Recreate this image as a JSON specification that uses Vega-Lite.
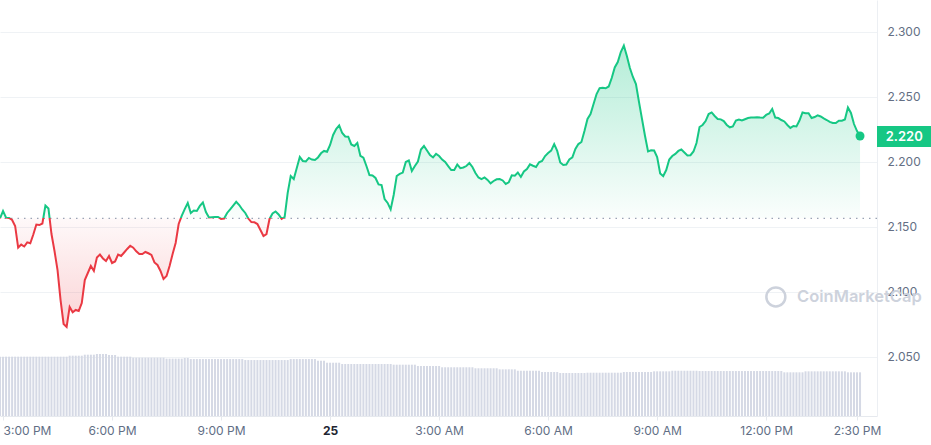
{
"$schema": "https://vega.github.io/schema/vega-lite/v6.json",
"width": 877, "height": 416,
"autosize": {"type": "none"},
"padding": {"left": 0, "top": 0, "right": 54, "bottom": 29},
"background": "#ffffff",
"config": {"view": {"stroke": null}, "font": "Inter"},
"data": {"format": {"parse": {"t": "utc:'%d %H:%M'"}}, "values": [
{"t":"24 14:55","p":2.1567,"v":5.99},{"t":"24 15:00","p":2.1623,"v":5.99},{"t":"24 15:05","p":2.1572,"v":5.99},{"t":"24 15:10","p":2.1569,"v":5.99},{"t":"24 15:15","p":2.1554,"v":5.99},{"t":"24 15:20","p":2.1508,"v":5.99},{"t":"24 15:25","p":2.1342,"v":5.99},{"t":"24 15:30","p":2.1365,"v":5.99},{"t":"24 15:35","p":2.1350,"v":5.99},{"t":"24 15:40","p":2.1382,"v":5.99},{"t":"24 15:45","p":2.1375,"v":5.99},{"t":"24 15:50","p":2.1442,"v":5.99},
{"t":"24 15:55","p":2.1519,"v":5.99},{"t":"24 16:00","p":2.1515,"v":5.99},{"t":"24 16:05","p":2.1527,"v":5.99},{"t":"24 16:10","p":2.1665,"v":5.99},{"t":"24 16:15","p":2.1642,"v":5.99},{"t":"24 16:20","p":2.1446,"v":5.99},{"t":"24 16:25","p":2.1315,"v":5.99},{"t":"24 16:30","p":2.1169,"v":5.99},{"t":"24 16:35","p":2.0938,"v":5.99},{"t":"24 16:40","p":2.0754,"v":5.99},{"t":"24 16:45","p":2.0731,"v":5.99},{"t":"24 16:50","p":2.0885,"v":6.09},
{"t":"24 16:55","p":2.0844,"v":6.09},{"t":"24 17:00","p":2.0862,"v":6.09},{"t":"24 17:05","p":2.0854,"v":6.09},{"t":"24 17:10","p":2.0915,"v":6.09},{"t":"24 17:15","p":2.1092,"v":6.19},{"t":"24 17:20","p":2.1146,"v":6.19},{"t":"24 17:25","p":2.1200,"v":6.19},{"t":"24 17:30","p":2.1162,"v":6.19},{"t":"24 17:35","p":2.1265,"v":6.26},{"t":"24 17:40","p":2.1288,"v":6.26},{"t":"24 17:45","p":2.1258,"v":6.26},{"t":"24 17:50","p":2.1238,"v":6.26},
{"t":"24 17:55","p":2.1277,"v":6.16},{"t":"24 18:00","p":2.1223,"v":6.16},{"t":"24 18:05","p":2.1235,"v":6.16},{"t":"24 18:10","p":2.1288,"v":5.99},{"t":"24 18:15","p":2.1277,"v":5.99},{"t":"24 18:20","p":2.1304,"v":5.99},{"t":"24 18:25","p":2.1331,"v":5.99},{"t":"24 18:30","p":2.1356,"v":5.99},{"t":"24 18:35","p":2.1341,"v":5.89},{"t":"24 18:40","p":2.1313,"v":5.89},{"t":"24 18:45","p":2.1292,"v":5.89},{"t":"24 18:50","p":2.1292,"v":5.89},
{"t":"24 18:55","p":2.1308,"v":5.89},{"t":"24 19:00","p":2.1298,"v":5.89},{"t":"24 19:05","p":2.1285,"v":5.89},{"t":"24 19:10","p":2.1227,"v":5.89},{"t":"24 19:15","p":2.1208,"v":5.89},{"t":"24 19:20","p":2.1162,"v":5.89},{"t":"24 19:25","p":2.1100,"v":5.89},{"t":"24 19:30","p":2.1123,"v":5.79},{"t":"24 19:35","p":2.1200,"v":5.79},{"t":"24 19:40","p":2.1292,"v":5.79},{"t":"24 19:45","p":2.1377,"v":5.79},{"t":"24 19:50","p":2.1523,"v":5.79},
{"t":"24 19:55","p":2.1585,"v":5.79},{"t":"24 20:00","p":2.1638,"v":5.86},{"t":"24 20:05","p":2.1685,"v":5.86},{"t":"24 20:10","p":2.1608,"v":5.75},{"t":"24 20:15","p":2.1627,"v":5.75},{"t":"24 20:20","p":2.1623,"v":5.75},{"t":"24 20:25","p":2.1662,"v":5.75},{"t":"24 20:30","p":2.1688,"v":5.75},{"t":"24 20:35","p":2.1615,"v":5.75},{"t":"24 20:40","p":2.1573,"v":5.75},{"t":"24 20:45","p":2.1575,"v":5.75},{"t":"24 20:50","p":2.1577,"v":5.75},
{"t":"24 20:55","p":2.1577,"v":5.75},{"t":"24 21:00","p":2.1562,"v":5.75},{"t":"24 21:05","p":2.1565,"v":5.75},{"t":"24 21:10","p":2.1608,"v":5.75},{"t":"24 21:15","p":2.1635,"v":5.75},{"t":"24 21:20","p":2.1665,"v":5.75},{"t":"24 21:25","p":2.1694,"v":5.75},{"t":"24 21:30","p":2.1669,"v":5.75},{"t":"24 21:35","p":2.1635,"v":5.75},{"t":"24 21:40","p":2.1608,"v":5.65},{"t":"24 21:45","p":2.1565,"v":5.65},{"t":"24 21:50","p":2.1538,"v":5.65},
{"t":"24 21:55","p":2.1536,"v":5.65},{"t":"24 22:00","p":2.1523,"v":5.65},{"t":"24 22:05","p":2.1477,"v":5.65},{"t":"24 22:10","p":2.1431,"v":5.65},{"t":"24 22:15","p":2.1446,"v":5.65},{"t":"24 22:20","p":2.1562,"v":5.65},{"t":"24 22:25","p":2.1604,"v":5.65},{"t":"24 22:30","p":2.1619,"v":5.65},{"t":"24 22:35","p":2.1596,"v":5.65},{"t":"24 22:40","p":2.1562,"v":5.65},{"t":"24 22:45","p":2.1577,"v":5.65},{"t":"24 22:50","p":2.1762,"v":5.65},
{"t":"24 22:55","p":2.1892,"v":5.75},{"t":"24 23:00","p":2.1869,"v":5.75},{"t":"24 23:05","p":2.1954,"v":5.75},{"t":"24 23:10","p":2.2038,"v":5.75},{"t":"24 23:15","p":2.2008,"v":5.75},{"t":"24 23:20","p":2.2004,"v":5.75},{"t":"24 23:25","p":2.2031,"v":5.75},{"t":"24 23:30","p":2.2019,"v":5.75},{"t":"24 23:35","p":2.2015,"v":5.75},{"t":"24 23:40","p":2.2035,"v":5.58},{"t":"24 23:45","p":2.2067,"v":5.58},{"t":"24 23:50","p":2.2085,"v":5.58},
{"t":"24 23:55","p":2.2079,"v":5.38},{"t":"25 00:00","p":2.2131,"v":5.38},{"t":"25 00:05","p":2.2208,"v":5.38},{"t":"25 00:10","p":2.2254,"v":5.38},{"t":"25 00:15","p":2.2281,"v":5.38},{"t":"25 00:20","p":2.2223,"v":5.25},{"t":"25 00:25","p":2.2196,"v":5.25},{"t":"25 00:30","p":2.2195,"v":5.25},{"t":"25 00:35","p":2.2135,"v":5.25},{"t":"25 00:40","p":2.2123,"v":5.25},{"t":"25 00:45","p":2.2146,"v":5.25},{"t":"25 00:50","p":2.2048,"v":5.25},
{"t":"25 00:55","p":2.2033,"v":5.25},{"t":"25 01:00","p":2.1969,"v":5.25},{"t":"25 01:05","p":2.1900,"v":5.25},{"t":"25 01:10","p":2.1896,"v":5.25},{"t":"25 01:15","p":2.1877,"v":5.25},{"t":"25 01:20","p":2.1828,"v":5.25},{"t":"25 01:25","p":2.1823,"v":5.25},{"t":"25 01:30","p":2.1715,"v":5.25},{"t":"25 01:35","p":2.1685,"v":5.25},{"t":"25 01:40","p":2.1635,"v":5.25},{"t":"25 01:45","p":2.1746,"v":5.18},{"t":"25 01:50","p":2.1892,"v":5.18},
{"t":"25 01:55","p":2.1908,"v":5.18},{"t":"25 02:00","p":2.1919,"v":5.18},{"t":"25 02:05","p":2.2000,"v":5.18},{"t":"25 02:10","p":2.2012,"v":5.18},{"t":"25 02:15","p":2.1931,"v":5.18},{"t":"25 02:20","p":2.1969,"v":5.18},{"t":"25 02:25","p":2.2004,"v":5.05},{"t":"25 02:30","p":2.2096,"v":5.05},{"t":"25 02:35","p":2.2123,"v":5.05},{"t":"25 02:40","p":2.2088,"v":5.05},{"t":"25 02:45","p":2.2054,"v":5.05},{"t":"25 02:50","p":2.2035,"v":5.05},
{"t":"25 02:55","p":2.2062,"v":5.05},{"t":"25 03:00","p":2.2046,"v":5.05},{"t":"25 03:05","p":2.2019,"v":4.92},{"t":"25 03:10","p":2.2000,"v":4.92},{"t":"25 03:15","p":2.1969,"v":4.92},{"t":"25 03:20","p":2.1938,"v":4.92},{"t":"25 03:25","p":2.1938,"v":4.92},{"t":"25 03:30","p":2.1981,"v":4.92},{"t":"25 03:35","p":2.1952,"v":4.92},{"t":"25 03:40","p":2.1958,"v":4.92},{"t":"25 03:45","p":2.1969,"v":4.92},{"t":"25 03:50","p":2.1992,"v":4.92},
{"t":"25 03:55","p":2.1962,"v":4.92},{"t":"25 04:00","p":2.1915,"v":4.82},{"t":"25 04:05","p":2.1881,"v":4.82},{"t":"25 04:10","p":2.1869,"v":4.82},{"t":"25 04:15","p":2.1881,"v":4.82},{"t":"25 04:20","p":2.1862,"v":4.82},{"t":"25 04:25","p":2.1836,"v":4.82},{"t":"25 04:30","p":2.1854,"v":4.82},{"t":"25 04:35","p":2.1867,"v":4.82},{"t":"25 04:40","p":2.1869,"v":4.71},{"t":"25 04:45","p":2.1858,"v":4.71},{"t":"25 04:50","p":2.1831,"v":4.71},
{"t":"25 04:55","p":2.1844,"v":4.71},{"t":"25 05:00","p":2.1898,"v":4.71},{"t":"25 05:05","p":2.1895,"v":4.71},{"t":"25 05:10","p":2.1919,"v":4.57},{"t":"25 05:15","p":2.1885,"v":4.57},{"t":"25 05:20","p":2.1927,"v":4.57},{"t":"25 05:25","p":2.1946,"v":4.57},{"t":"25 05:30","p":2.1982,"v":4.57},{"t":"25 05:35","p":2.1971,"v":4.57},{"t":"25 05:40","p":2.1962,"v":4.57},{"t":"25 05:45","p":2.1998,"v":4.57},{"t":"25 05:50","p":2.2008,"v":4.44},
{"t":"25 05:55","p":2.2046,"v":4.44},{"t":"25 06:00","p":2.2069,"v":4.44},{"t":"25 06:05","p":2.2088,"v":4.44},{"t":"25 06:10","p":2.2138,"v":4.44},{"t":"25 06:15","p":2.2085,"v":4.44},{"t":"25 06:20","p":2.1996,"v":4.34},{"t":"25 06:25","p":2.1977,"v":4.34},{"t":"25 06:30","p":2.1981,"v":4.34},{"t":"25 06:35","p":2.2019,"v":4.34},{"t":"25 06:40","p":2.2035,"v":4.34},{"t":"25 06:45","p":2.2100,"v":4.34},{"t":"25 06:50","p":2.2138,"v":4.34},
{"t":"25 06:55","p":2.2154,"v":4.34},{"t":"25 07:00","p":2.2238,"v":4.34},{"t":"25 07:05","p":2.2331,"v":4.37},{"t":"25 07:10","p":2.2369,"v":4.37},{"t":"25 07:15","p":2.2446,"v":4.37},{"t":"25 07:20","p":2.2523,"v":4.37},{"t":"25 07:25","p":2.2568,"v":4.37},{"t":"25 07:30","p":2.2571,"v":4.37},{"t":"25 07:35","p":2.2567,"v":4.37},{"t":"25 07:40","p":2.2581,"v":4.37},{"t":"25 07:45","p":2.2646,"v":4.37},{"t":"25 07:50","p":2.2727,"v":4.37},
{"t":"25 07:55","p":2.2769,"v":4.37},{"t":"25 08:00","p":2.2846,"v":4.37},{"t":"25 08:05","p":2.2896,"v":4.44},{"t":"25 08:10","p":2.2815,"v":4.44},{"t":"25 08:15","p":2.2723,"v":4.44},{"t":"25 08:20","p":2.2654,"v":4.44},{"t":"25 08:25","p":2.2600,"v":4.44},{"t":"25 08:30","p":2.2462,"v":4.44},{"t":"25 08:35","p":2.2331,"v":4.44},{"t":"25 08:40","p":2.2200,"v":4.44},{"t":"25 08:45","p":2.2081,"v":4.44},{"t":"25 08:50","p":2.2090,"v":4.44},
{"t":"25 08:55","p":2.2088,"v":4.51},{"t":"25 09:00","p":2.2038,"v":4.51},{"t":"25 09:05","p":2.1912,"v":4.51},{"t":"25 09:10","p":2.1892,"v":4.51},{"t":"25 09:15","p":2.1938,"v":4.51},{"t":"25 09:20","p":2.2019,"v":4.51},{"t":"25 09:25","p":2.2046,"v":4.57},{"t":"25 09:30","p":2.2062,"v":4.57},{"t":"25 09:35","p":2.2085,"v":4.57},{"t":"25 09:40","p":2.2096,"v":4.57},{"t":"25 09:45","p":2.2073,"v":4.57},{"t":"25 09:50","p":2.2050,"v":4.57},
{"t":"25 09:55","p":2.2052,"v":4.57},{"t":"25 10:00","p":2.2081,"v":4.57},{"t":"25 10:05","p":2.2146,"v":4.57},{"t":"25 10:10","p":2.2269,"v":4.54},{"t":"25 10:15","p":2.2285,"v":4.54},{"t":"25 10:20","p":2.2315,"v":4.54},{"t":"25 10:25","p":2.2369,"v":4.54},{"t":"25 10:30","p":2.2381,"v":4.54},{"t":"25 10:35","p":2.2354,"v":4.54},{"t":"25 10:40","p":2.2331,"v":4.54},{"t":"25 10:45","p":2.2328,"v":4.54},{"t":"25 10:50","p":2.2315,"v":4.54},
{"t":"25 10:55","p":2.2285,"v":4.54},{"t":"25 11:00","p":2.2267,"v":4.54},{"t":"25 11:05","p":2.2273,"v":4.54},{"t":"25 11:10","p":2.2319,"v":4.54},{"t":"25 11:15","p":2.2327,"v":4.54},{"t":"25 11:20","p":2.2319,"v":4.54},{"t":"25 11:25","p":2.2329,"v":4.54},{"t":"25 11:30","p":2.2338,"v":4.54},{"t":"25 11:35","p":2.2342,"v":4.54},{"t":"25 11:40","p":2.2342,"v":4.54},{"t":"25 11:45","p":2.2344,"v":4.54},{"t":"25 11:50","p":2.2342,"v":4.54},
{"t":"25 11:55","p":2.2341,"v":4.54},{"t":"25 12:00","p":2.2362,"v":4.54},{"t":"25 12:05","p":2.2373,"v":4.54},{"t":"25 12:10","p":2.2408,"v":4.54},{"t":"25 12:15","p":2.2342,"v":4.54},{"t":"25 12:20","p":2.2338,"v":4.54},{"t":"25 12:25","p":2.2323,"v":4.54},{"t":"25 12:30","p":2.2312,"v":4.41},{"t":"25 12:35","p":2.2285,"v":4.41},{"t":"25 12:40","p":2.2262,"v":4.41},{"t":"25 12:45","p":2.2277,"v":4.41},{"t":"25 12:50","p":2.2273,"v":4.41},
{"t":"25 12:55","p":2.2319,"v":4.41},{"t":"25 13:00","p":2.2381,"v":4.41},{"t":"25 13:05","p":2.2375,"v":4.51},{"t":"25 13:10","p":2.2375,"v":4.51},{"t":"25 13:15","p":2.2338,"v":4.51},{"t":"25 13:20","p":2.2346,"v":4.51},{"t":"25 13:25","p":2.2359,"v":4.51},{"t":"25 13:30","p":2.2350,"v":4.51},{"t":"25 13:35","p":2.2335,"v":4.51},{"t":"25 13:40","p":2.2323,"v":4.51},{"t":"25 13:45","p":2.2308,"v":4.51},{"t":"25 13:50","p":2.2300,"v":4.51},
{"t":"25 13:55","p":2.2300,"v":4.51},{"t":"25 14:00","p":2.2318,"v":4.51},{"t":"25 14:05","p":2.2318,"v":4.51},{"t":"25 14:10","p":2.2327,"v":4.51},{"t":"25 14:15","p":2.2419,"v":4.41},{"t":"25 14:20","p":2.2377,"v":4.41},{"t":"25 14:25","p":2.2292,"v":4.41},{"t":"25 14:30","p":2.2238,"v":4.41},{"t":"25 14:35","p":2.2200,"v":4.41}
]},
"layer": [
{
"mark": {"type": "bar", "width": 2, "fill": "#d5d9e5"},
"encoding": {
"x": {"field": "t", "type": "temporal",
"scale": {"type": "utc", "padding": 0, "domain": [{"year": 1900, "month": 1, "date": 24, "hours": 14, "minutes": 55, "utc": true}, {"year": 1900, "month": 1, "date": 25, "hours": 15, "minutes": 3, "utc": true}]},
"axis": null},
"y": {"field": "v", "type": "quantitative", "scale": {"domain": [0, 42], "nice": false}, "axis": null}
}
},
{
"mark": {"type": "area", "interpolate": "linear", "fill": {"gradient": "linear", "x1": 0, "y1": 0, "x2": 0, "y2": 1, "stops": [
{"offset": 0, "color": "rgba(22,199,132,0.32)"},
{"offset": 0.6139, "color": "rgba(22,199,132,0.02)"},
{"offset": 0.6139, "color": "rgba(234,57,67,0.03)"},
{"offset": 1, "color": "rgba(234,57,67,0.22)"}]}},
"encoding": {
"x": {"field": "t", "type": "temporal",
"axis": {"orient": "bottom", "title": null, "grid": false, "labelOverlap": false, "labelFlush": 6,
"values": [
{"year": 1900, "month": 1, "date": 24, "hours": 15, "utc": true},
{"year": 1900, "month": 1, "date": 24, "hours": 18, "utc": true},
{"year": 1900, "month": 1, "date": 24, "hours": 21, "utc": true},
{"year": 1900, "month": 1, "date": 25, "hours": 3, "utc": true},
{"year": 1900, "month": 1, "date": 25, "hours": 6, "utc": true},
{"year": 1900, "month": 1, "date": 25, "hours": 9, "utc": true},
{"year": 1900, "month": 1, "date": 25, "hours": 12, "utc": true},
{"year": 1900, "month": 1, "date": 25, "hours": 14, "minutes": 30, "utc": true}],
"format": "%-I:%M %p",
"domainColor": "#e6e9ee", "tickColor": "#e6e9ee", "tickSize": 4, "labelPadding": 5,
"labelFont": "Inter", "labelFontSize": 12, "labelColor": "#616e85"}},
"y": {"field": "p", "type": "quantitative",
"scale": {"domain": [2.004615, 2.324615], "nice": false, "zero": false},
"axis": {"orient": "right", "title": null, "values": [2.05, 2.1, 2.15, 2.2, 2.25, 2.3], "format": ".3f",
"grid": true, "gridColor": "#eff2f5", "domain": true, "domainColor": "#eceff3", "ticks": false,
"labelPadding": 10, "labelFont": "Inter", "labelFontSize": 12, "labelColor": "#646f84"}},
"y2": {"datum": 2.1567}
}
},
{
"mark": {"type": "rule", "strokeDash": [1.5, 5], "stroke": "#9aa3b5", "strokeWidth": 1.2},
"data": {"values": [{}]},
"encoding": {"y": {"datum": 2.1567, "type": "quantitative", "scale": {"domain": [2.004615, 2.324615], "nice": false, "zero": false}, "axis": null}}
},
{
"mark": {"type": "line", "interpolate": "linear", "strokeWidth": 2, "stroke": {"gradient": "linear", "x1": 0, "y1": 0, "x2": 0, "y2": 1, "stops": [
{"offset": 0, "color": "#16c784"},
{"offset": 0.6139, "color": "#16c784"},
{"offset": 0.6139, "color": "#ea3943"},
{"offset": 1, "color": "#ea3943"}]}},
"encoding": {
"x": {"field": "t", "type": "temporal",
"axis": {"orient": "bottom", "title": null, "grid": false, "labelOverlap": false, "domain": false,
"values": [{"year": 1900, "month": 1, "date": 25, "hours": 0, "utc": true}],
"format": "%-d",
"tickColor": "#e6e9ee", "tickSize": 4, "labelPadding": 5,
"labelFont": "Inter", "labelFontSize": 12, "labelFontWeight": "bold", "labelColor": "#222531"}},
"y": {"field": "p", "type": "quantitative", "scale": {"domain": [2.004615, 2.324615], "nice": false, "zero": false}, "axis": null}
}
},
{
"transform": [{"filter": "utcdate(datum.t) == 25 && utchours(datum.t) == 14 && utcminutes(datum.t) == 35"}],
"mark": {"type": "point", "filled": true, "size": 80, "color": "#16c784", "opacity": 1},
"encoding": {
"x": {"field": "t", "type": "temporal", "axis": null},
"y": {"field": "p", "type": "quantitative", "scale": {"domain": [2.004615, 2.324615], "nice": false, "zero": false}, "axis": null}
}
},
{
"data": {"values": [{}]},
"mark": {"type": "point", "shape": "circle", "filled": false, "stroke": "#cdd2dc", "strokeWidth": 2.5, "size": 360, "opacity": 1},
"encoding": {
"x": {"datum": {"year": 1900, "month": 1, "date": 25, "hours": 12, "minutes": 16, "utc": true}, "type": "temporal", "axis": null},
"y": {"datum": 2.0962, "type": "quantitative", "scale": {"domain": [2.004615, 2.324615], "nice": false, "zero": false}, "axis": null}
}
},
{
"data": {"values": [{}]},
"mark": {"type": "text", "text": "CoinMarketCap", "align": "left", "baseline": "middle", "font": "Inter", "fontSize": 16.5, "fontWeight": 600, "fill": "#cdd2dc"},
"encoding": {
"x": {"datum": {"year": 1900, "month": 1, "date": 25, "hours": 12, "minutes": 51, "utc": true}, "type": "temporal", "axis": null},
"y": {"datum": 2.0962, "type": "quantitative", "scale": {"domain": [2.004615, 2.324615], "nice": false, "zero": false}, "axis": null}
}
},
{
"data": {"values": [{}]},
"mark": {"type": "rect", "fill": "#16c784"},
"encoding": {
"x": {"datum": {"year": 1900, "month": 1, "date": 25, "hours": 15, "minutes": 3, "utc": true}, "type": "temporal", "axis": null},
"x2": {"datum": {"year": 1900, "month": 1, "date": 25, "hours": 16, "minutes": 45, "utc": true}},
"y": {"datum": 2.2277, "type": "quantitative", "scale": {"domain": [2.004615, 2.324615], "nice": false, "zero": false}, "axis": null},
"y2": {"datum": 2.2115}
}
},
{
"data": {"values": [{}]},
"mark": {"type": "text", "text": "2.220", "align": "center", "baseline": "middle", "font": "Inter", "fontSize": 13, "fontWeight": 600, "fill": "#ffffff"},
"encoding": {
"x": {"datum": {"year": 1900, "month": 1, "date": 25, "hours": 15, "minutes": 48, "utc": true}, "type": "temporal", "axis": null},
"y": {"datum": 2.2196, "type": "quantitative", "scale": {"domain": [2.004615, 2.324615], "nice": false, "zero": false}, "axis": null}
}
}
],
"resolve": {"scale": {"y": "independent"}, "axis": {"x": "independent"}}
}
